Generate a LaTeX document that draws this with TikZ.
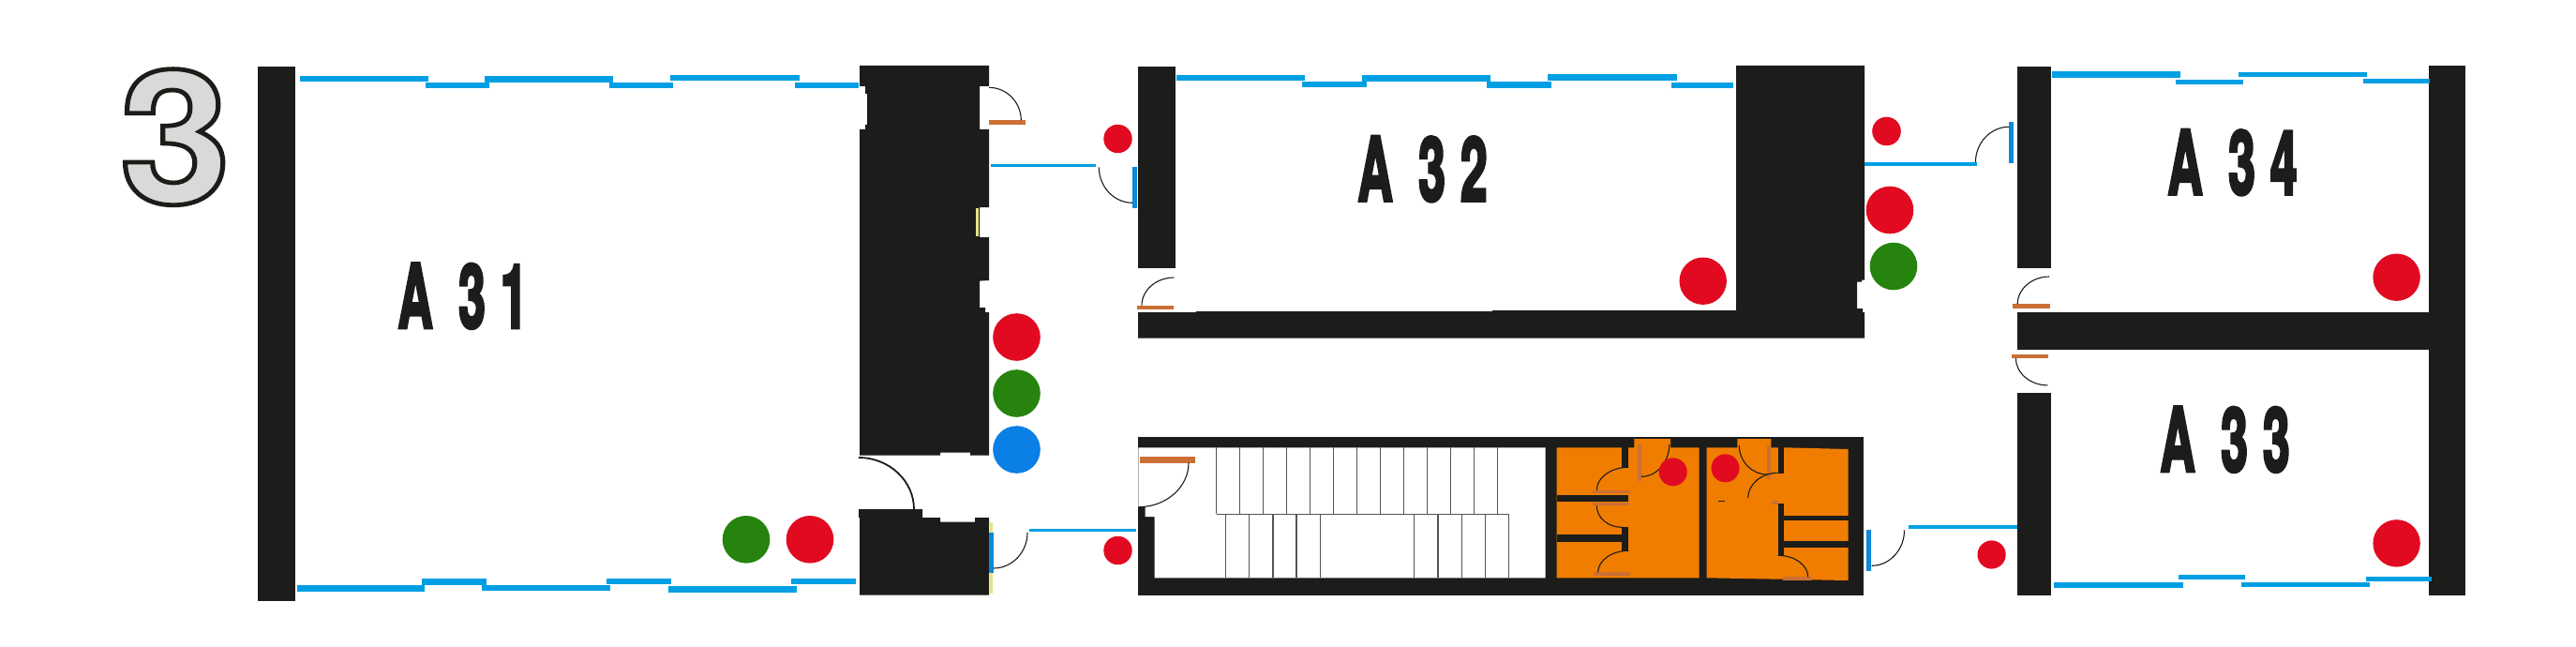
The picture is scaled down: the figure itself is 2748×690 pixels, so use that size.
\documentclass[tikz,border=0pt]{standalone}
\usepackage{fontspec}
\setmainfont{Liberation Sans}
\newfontfamily\roomfont[FakeBold=4,LetterSpace=31]{TeX Gyre Heros Bold}
\newfontfamily\floorfont{TeX Gyre Heros Bold}
\definecolor{wallc}{HTML}{1C1C1A}
\definecolor{winc}{HTML}{009FE3}
\definecolor{doorb}{HTML}{0A8AD8}
\definecolor{doorw}{HTML}{CB6F35}
\definecolor{wcc}{HTML}{F07D00}
\definecolor{redc}{HTML}{E10A21}
\definecolor{greenc}{HTML}{26840E}
\definecolor{bluec}{HTML}{0A7FE6}
\definecolor{yelc}{HTML}{E4E48A}
\definecolor{stairc}{HTML}{555555}
\tikzset{
  wall/.style={fill=wallc},
  win/.style={fill=winc},
  bdoor/.style={fill=doorb},
  wdoor/.style={fill=doorw},
  wcarea/.style={fill=wcc},
  glass/.style={fill=yelc},
  stairline/.style={draw=stairc,line width=0.6pt},
  swing/.style={draw=wallc,line width=0.55pt},
  reddot/.style={fill=redc},
  greendot/.style={fill=greenc},
  bluedot/.style={fill=bluec},
  roomlabel/.style={anchor=base west,inner sep=0pt,text=wallc,font=\fontsize{47}{47}\roomfont},
}
\newcommand{\swingarc}[5][swing]{\draw[#1] (#2,#3) .. controls ({#2+0.55*(#4-(#2))},#3) and (#4,{#5-0.55*(#5-(#3))}) .. (#4,#5);}
\newcommand{\roomtext}[1]{\scalebox{0.55}[1]{A\kern 25pt #1}}
\begin{document}
\begin{tikzpicture}[x=0.5pt,y=-0.5pt]
\useasboundingbox (0,0) rectangle (2748,690);
\fill[white] (0,0) rectangle (2748,690);

% floor number
\node[anchor=base west,inner sep=0pt] (floor) at (127,217) {\scalebox{1.08}[1]{\fontsize{99}{99}\floorfont\special{pdf:code q 2 Tr 2.4 w 0.11 0.11 0.10 RG 0.85 0.85 0.85 rg}3\special{pdf:code Q}}};

% outer walls, A31
\fill[wall] (274.6,70.7) rectangle (315.4,640.7);
\fill[wall] (917,70) -- (1055,70) -- (1055,92) -- (1045,92) -- (1045,138) -- (1055,138) -- (1055,221) -- (1045,221) -- (1045,253) -- (1055,253) -- (1055,299) -- (1045,299.6) -- (1045,328) -- (1051,328) -- (1051,333) -- (1055,333) -- (1055,485.7) -- (1035,485.7) -- (1035,482.7) -- (1003,482.7) -- (1003,485.7) -- (917,485.7) -- (917,138) -- (923,138) -- (923,133) -- (925,133) -- (925,100) -- (923,100) -- (923,92) -- (917,92) -- cycle;
\fill[wall] (916,543) -- (984,543) -- (984,552) -- (1003,552) -- (1003,556.7) -- (1040,556.7) -- (1040,552) -- (1055,552) -- (1055,634.7) -- (917,634.7) -- (917,552) -- (916,552) -- cycle;
\fill[glass] (1041.3,222) rectangle (1044.3,251.7);
\fill[glass] (1056,557) rectangle (1059,632.7);

% A32 walls
\fill[wall] (1214.3,70.7) rectangle (1254,285.7);
\fill[wall] (1214,333) -- (1276,333) -- (1276,332) -- (1592,332) -- (1592,331) -- (1852,331) -- (1852,70) -- (1989,70) -- (1989,298.7) -- (1986,298.7) -- (1986,300.7) -- (1981,300.7) -- (1981,329) -- (1987,329) -- (1987,333) -- (1989,333) -- (1989,360.7) -- (1214,360.7) -- cycle;

% A33/A34 walls
\fill[wall] (2151.7,70.7) rectangle (2188.2,285.7);
\fill[wall] (2151.7,419) rectangle (2188.2,634.8);
\fill[wall] (2151.7,333) rectangle (2591,373.4);
\fill[wall] (2591,70) rectangle (2629.8,634.8);

% stairs and WC block
\fill[wall] (1214.3,466) rectangle (1988.3,635);
\fill[white] (1214.3,477.3) -- (1648.7,477.3) -- (1648.7,616.3) -- (1231.7,616.3) -- (1231.7,551) -- (1221.7,551) -- (1221.7,540.7) -- (1214.3,540.7) -- cycle;
\fill[wcarea] (1660.7,477.3) -- (1743.3,477.3) -- (1743.3,468) -- (1782,468) -- (1782,477.3) -- (1812.7,477.3) -- (1812.7,616.3) -- (1660.7,616.3) -- cycle;
\fill[wcarea] (1820.7,477.3) -- (1853.3,477.3) -- (1853.3,468) -- (1889.3,468) -- (1889.3,477.3) -- (1903.3,477.3) -- (1971.7,479) -- (1971.7,619) -- (1820.7,616.3) -- cycle;
\fill[wall] (1730,477.3) rectangle (1737.3,499.3);
\fill[wall] (1660.7,527.7) rectangle (1737.3,534.7);
\fill[wall] (1660.7,570.3) rectangle (1737.3,578.3);
\fill[wall] (1730,562.3) rectangle (1737.3,587.7);
\fill[wall] (1896.7,477.3) rectangle (1903.3,505);
\fill[wall] (1896.7,537) rectangle (1903.3,592.3);
\fill[wall] (1903.3,550) rectangle (1971.7,555.3);
\fill[wall] (1903.3,577.3) rectangle (1971.7,584);
\fill[wall] (1832.7,533.9) rectangle (1840,534.8);

% stairs
\foreach \sx in {1297.7,1322.7,...,1597.8} {\draw[stairline] (\sx,477.3) -- (\sx,548.3);}
\draw[stairline] (1297.7,548.3) -- (1609.3,548.3);
\foreach \sx in {1307.3,1332.7,1358,1383,1408.3,1508.7,1534,1559.3,1584.3,1609.3} {\draw[stairline] (\sx,548.3) -- (\sx,616.3);}

% windows A31
\fill[win] (320,80.7) rectangle (457,87.3);
\fill[win] (453.6,87.7) rectangle (522,94.3);
\fill[win] (517,81) rectangle (654,87.6);
\fill[win] (650,88) rectangle (718,94.3);
\fill[win] (715,80) rectangle (853,86);
\fill[win] (848,88.3) rectangle (916,94.3);
\fill[win] (316.7,624) rectangle (453.3,630.7);
\fill[win] (450,617.3) rectangle (518.7,624);
\fill[win] (514,623.7) rectangle (651,630.3);
\fill[win] (647.3,617) rectangle (716,623.3);
\fill[win] (713,625) rectangle (850,631.7);
\fill[win] (844,616.7) rectangle (913,623.3);

% windows A32
\fill[win] (1255,80.3) rectangle (1392,86.3);
\fill[win] (1389,87) rectangle (1457.5,93.3);
\fill[win] (1452.5,80.3) rectangle (1590,86.7);
\fill[win] (1586,87.3) rectangle (1655,93.7);
\fill[win] (1651.4,79.3) rectangle (1788.7,85.7);
\fill[win] (1783,87.7) rectangle (1849.4,94);

% windows A34 and A33
\fill[win] (2189,76.4) rectangle (2325.9,82.9);
\fill[win] (2320.9,85.2) rectangle (2392.6,90.2);
\fill[win] (2387.6,77.2) rectangle (2524.9,82.1);
\fill[win] (2521,83.7) rectangle (2591.6,88.7);
\fill[win] (2191,621) rectangle (2328.8,627);
\fill[win] (2323.8,613.3) rectangle (2395,618.3);
\fill[win] (2390.5,621.4) rectangle (2528.2,626);
\fill[win] (2524,615.3) rectangle (2594,620.2);

% corridor glass lines
\fill[win] (1056.7,174.7) rectangle (1168.7,178.3);
\fill[win] (1098,563.5) rectangle (1212,567);
\fill[win] (1989,172.8) rectangle (2109,176.7);
\fill[win] (2036,560) rectangle (2151.7,564);

% door leaves
\fill[bdoor] (1208,178) rectangle (1213,221.7);
\fill[bdoor] (1055,568) rectangle (1060,611);
\fill[bdoor] (1991,565) rectangle (1996.3,608.7);
\fill[bdoor] (2143,130) rectangle (2148,174);
\fill[wdoor] (1054.7,128.3) rectangle (1094.3,133.3);
\fill[wdoor] (1213,325.7) rectangle (1252.4,330.3);
\fill[wdoor] (1216.3,486.7) rectangle (1275,493.7);
\fill[wdoor] (2147.2,324.4) rectangle (2187,329);
\fill[wdoor] (2146,377.6) rectangle (2185.3,382.2);
\fill[wdoor] (1746.7,474) rectangle (1751,513);
\fill[wdoor] (1699.3,522.7) rectangle (1738.7,526.3);
\fill[wdoor] (1699,535.7) rectangle (1738.3,539.3);
\fill[wdoor] (1700,610.3) rectangle (1739.3,614);
\fill[wdoor] (1885,475) rectangle (1889,511);
\fill[wdoor] (1890,533.7) rectangle (1897.3,538);
\fill[wdoor] (1901.7,615.3) rectangle (1932.7,618.7);

% door swings
\swingarc[swing,line width=0.9pt]{916}{488}{975}{543}
\swingarc{1060}{606}{1096}{568}
\swingarc{1055}{93.3}{1089.3}{128.3}
\swingarc{1208}{216.3}{1172.3}{178.3}
\swingarc{1252.4}{296}{1218}{325.7}
\swingarc{1214.7}{540.7}{1268}{493.7}
\swingarc{1751}{508.3}{1780.7}{474}
\swingarc{1737.3}{498.3}{1703.3}{522.7}
\swingarc{1730}{562.3}{1703.3}{539.3}
\swingarc{1737.3}{587.3}{1704.7}{610.3}
\swingarc{1885}{506}{1855.3}{475}
\swingarc{1896.7}{504.3}{1864.7}{531}
\swingarc{1896.7}{592.3}{1928.7}{615.3}
\swingarc{1996.7}{603.3}{2031.5}{565.5}
\swingarc{2143}{135.3}{2107.4}{173.2}
\swingarc{2186.2}{295}{2152.2}{324.4}
\swingarc{2184.5}{410.9}{2150.5}{382.2}

% equipment dots
\fill[reddot] (1084.5,359.5) circle (25.3);
\fill[greendot] (1084.5,419.5) circle (25.3);
\fill[bluedot] (1084.5,479.5) circle (25.3);
\fill[greendot] (796,575.3) circle (25.3);
\fill[reddot] (864,575.3) circle (25.3);
\fill[reddot] (1192.5,148) circle (15.2);
\fill[reddot] (1192.5,587) circle (15.2);
\fill[reddot] (1816.7,299.7) circle (25.2);
\fill[reddot] (2012.5,140) circle (15.3);
\fill[reddot] (2016,224) circle (25.3);
\fill[greendot] (2020,284) circle (25.3);
\fill[reddot] (2124.6,591.5) circle (15.1);
\fill[reddot] (2556.6,295.7) circle (25.2);
\fill[reddot] (2556.6,579.4) circle (25.2);
\fill[reddot] (1784.7,503.3) circle (15);
\fill[reddot] (1840.5,499.3) circle (15);

% room labels
\node[roomlabel] (a31) at (424,349.5) {\roomtext{31}};
\node[roomlabel] (a32) at (1448,214) {\roomtext{32}};
\node[roomlabel] (a33) at (2304,502.5) {\roomtext{33}};
\node[roomlabel] (a34) at (2312,207) {\roomtext{34}};
\end{tikzpicture}
\end{document}
